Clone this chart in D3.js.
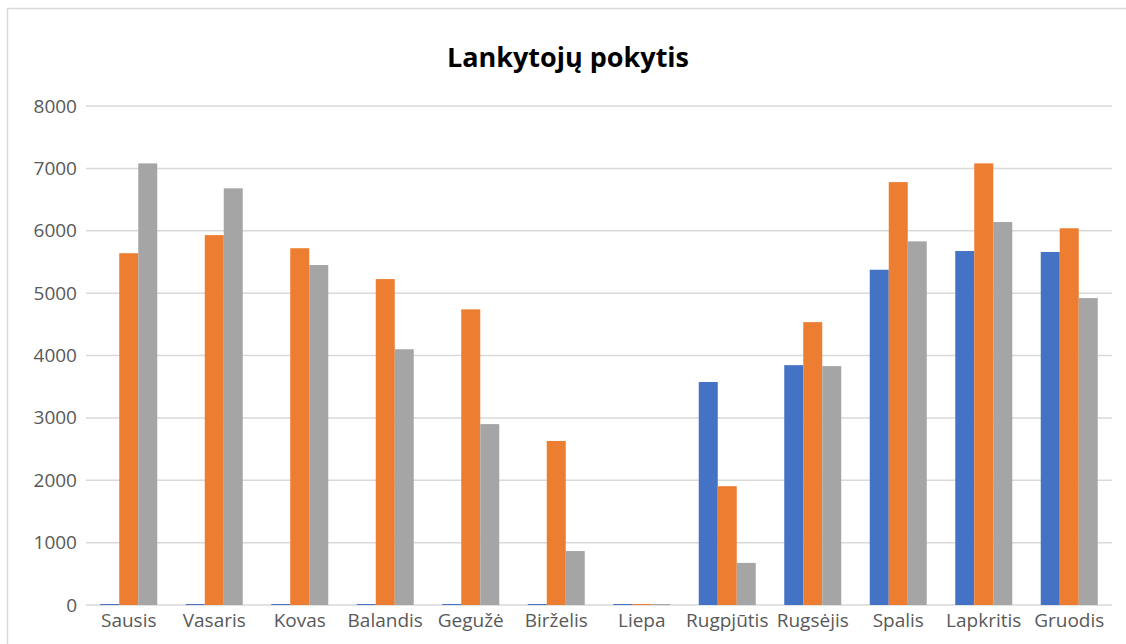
<!DOCTYPE html>
<html>
<head>
<meta charset="utf-8">
<script src="https://d3js.org/d3.v7.min.js"></script>
<style>
  body { margin: 0; background: #fff; }
  text { font-family: "Open Sans", sans-serif; }
</style>
</head>
<body>
<script>
// chart data
var months = ["Sausis", "Vasaris", "Kovas", "Balandis", "Gegužė", "Birželis",
              "Liepa", "Rugpjūtis", "Rugsėjis", "Spalis", "Lapkritis", "Gruodis"];
var seriesNames = ["Serija 1", "Serija 2", "Serija 3"];
var series1 = [0, 0, 0, 0, 0, 0, 0, 3575, 3845, 5375, 5675, 5660];
var series2 = [5640, 5930, 5720, 5225, 4740, 2630, 0, 1905, 4535, 6780, 7080, 6040];
var series3 = [7080, 6680, 5450, 4100, 2900, 865, 0, 675, 3830, 5830, 6140, 4920];
var yTicks = [0, 1000, 2000, 3000, 4000, 5000, 6000, 7000, 8000];
var colors = ["#4472c4", "#ed7d31", "#a5a5a5"];

var width = 1126, height = 644;
var allSeries = [series1, series2, series3];

var svg = d3.select("body").append("svg")
  .attr("width", width)
  .attr("height", height);

// chart frame
svg.append("rect")
  .attr("x", 7.5).attr("y", 8.5)
  .attr("width", 1140).attr("height", 660)
  .attr("fill", "#fff")
  .attr("stroke", "#d9d9d9")
  .attr("stroke-width", 1.5);

var x0 = d3.scaleBand().domain(months).range([86, 1112]).padding(0);
var x1 = d3.scaleBand().domain(seriesNames).range([0, x0.bandwidth()])
  .paddingInner(0).paddingOuter(0.75);
var y = d3.scaleLinear().domain([0, 8000]).range([605, 106]);

// gridlines
svg.append("g").selectAll("line")
  .data(yTicks)
  .join("line")
  .attr("x1", 86).attr("x2", 1112)
  .attr("y1", d => y(d)).attr("y2", d => y(d))
  .attr("stroke", "#d9d9d9")
  .attr("stroke-width", 1.5);

// y axis labels
var yAxis = svg.append("g")
  .attr("transform", "translate(86,0)")
  .call(d3.axisLeft(y).tickValues(yTicks).tickFormat(d3.format("d")).tickSize(0).tickPadding(9));
yAxis.select(".domain").remove();
yAxis.selectAll("text")
  .attr("font-family", "Open Sans, sans-serif")
  .attr("font-size", 19)
  .attr("fill", "#595959");

// bars
var groups = svg.append("g").selectAll("g")
  .data(months)
  .join("g")
  .attr("transform", d => "translate(" + x0(d) + ",0)");

groups.selectAll("rect")
  .data((m, i) => allSeries.map((s, k) => ({ name: seriesNames[k], value: s[i], k: k })))
  .join("rect")
  .attr("x", d => x1(d.name))
  .attr("width", x1.bandwidth())
  .attr("y", d => Math.min(y(d.value), y(0) - 1))
  .attr("height", d => Math.max(y(0) - y(d.value), 1))
  .attr("fill", d => colors[d.k]);

// x axis labels
var xAxis = svg.append("g")
  .attr("transform", "translate(0,605)")
  .call(d3.axisBottom(x0).tickSize(0).tickPadding(9));
xAxis.select(".domain").remove();
xAxis.selectAll("text")
  .attr("font-family", "Open Sans, sans-serif")
  .attr("font-size", 19)
  .attr("fill", "#595959");

// title
svg.append("text")
  .attr("x", 568).attr("y", 67)
  .attr("text-anchor", "middle")
  .attr("font-size", 26)
  .attr("font-weight", "bold")
  .attr("fill", "#000")
  .attr("textLength", 242)
  .attr("lengthAdjust", "spacingAndGlyphs")
  .text("Lankytojų pokytis");
</script>
</body>
</html>
